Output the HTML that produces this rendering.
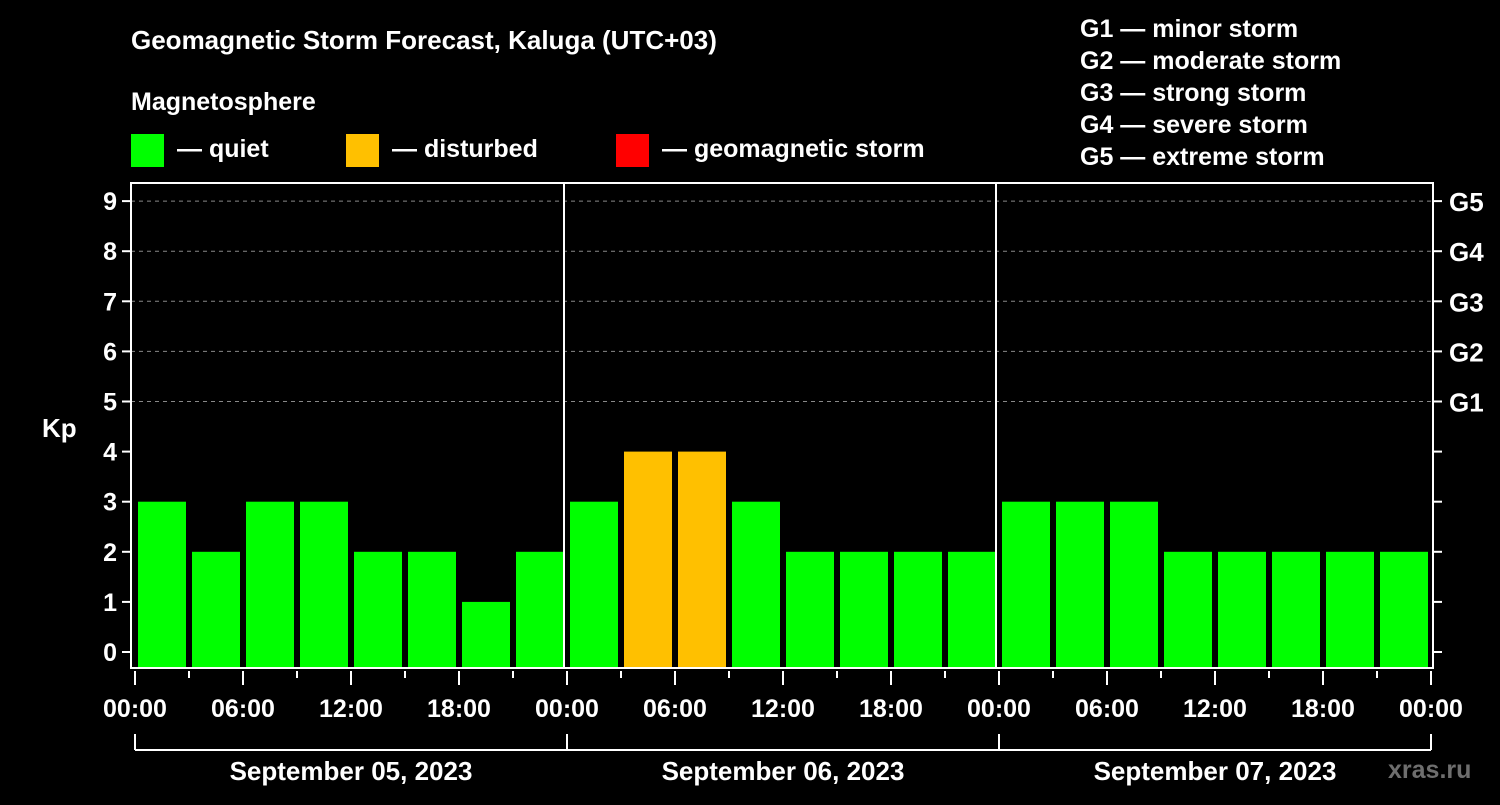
<!DOCTYPE html>
<html><head><meta charset="utf-8"><style>
body{margin:0;background:#000;width:1500px;height:800px;overflow:hidden}
svg text{font-family:"Liberation Sans",sans-serif;font-weight:bold;fill:#fff}
</style></head><body>
<svg id="c" width="1500" height="800" xmlns="http://www.w3.org/2000/svg">
<text x="131" y="49" font-size="26">Geomagnetic Storm Forecast, Kaluga (UTC+03)</text>
<text x="131" y="110" font-size="25">Magnetosphere</text>
<g><rect x="131" y="134" width="33" height="33" fill="#00ff00"/><text x="177" y="157" font-size="25">— quiet</text></g>
<g><rect x="346" y="134" width="33" height="33" fill="#ffc000"/><text x="392" y="157" font-size="25">— disturbed</text></g>
<g><rect x="616" y="134" width="33" height="33" fill="#ff0000"/><text x="662" y="157" font-size="25">— geomagnetic storm</text></g>
<g font-size="25">
<text x="1080" y="37">G1 — minor storm</text><text x="1080" y="69">G2 — moderate storm</text><text x="1080" y="101">G3 — strong storm</text><text x="1080" y="133">G4 — severe storm</text><text x="1080" y="165">G5 — extreme storm</text></g>
<text x="42" y="437" font-size="26">Kp</text>
<text x="1388" y="778" font-size="25" fill="#777" style="fill:#6e6e6e">xras.ru</text>
<g id="plot"></g>
</svg>
<script>
const kpValues=[3,2,3,3,2,2,1,2, 3,4,4,3,2,2,2,2, 3,3,3,2,2,2,2,2];
const dayLabels=["September 05, 2023","September 06, 2023","September 07, 2023"];
const hourLabels=["00:00","06:00","12:00","18:00"];
const gLabels=["G1","G2","G3","G4","G5"];
const yTicks=[0,1,2,3,4,5,6,7,8,9];
const NS="http://www.w3.org/2000/svg";
const g=document.getElementById('plot');
const X0=135,DAYW=432,SLOT=54,PL=131,PR=1433,PT=183,PB=668;
const y=v=>652-v*50.1;
const xs=i=>X0+i*SLOT;
function mk(t,a,txt){const e=document.createElementNS(NS,t);for(const k in a)e.setAttribute(k,a[k]);if(txt!=null)e.textContent=txt;g.appendChild(e);return e;}
yTicks.forEach(v=>{
 if(v>=5){const l=mk('line',{x1:PL,x2:PR,y1:y(v),y2:y(v),stroke:'#888','stroke-dasharray':'4,4','stroke-width':1});
 
 }
 const t=mk('line',{x1:PL-9,x2:PL,y1:y(v),y2:y(v),stroke:'#fff','stroke-width':2});
 
 
 const r=mk('line',{x1:PR,x2:PR+9,y1:y(v),y2:y(v),stroke:'#fff','stroke-width':2});
 
 
 const tx=mk('text',{x:PL-14,y:y(v)+9,'font-size':25,'text-anchor':'end'},String(v));
 
 
});
gLabels.forEach((s,i)=>{
 const t=mk('text',{x:1449,y:y(5+i)+10,'font-size':26},s);
 
 
});
kpValues.forEach((v,i)=>{
 const col=v>=5?'#ff0000':(v>=4?'#ffc000':'#00ff00');
 const b=mk('rect',{x:xs(i)+3,y:y(v),width:48,height:PB-y(v),fill:col});
 
 
});
const fr=mk('rect',{x:PL,y:PT,width:PR-PL,height:PB-PT,fill:'none',stroke:'#fff','stroke-width':2});


for(let d=1;d<dayLabels.length;d++){
 const l=mk('line',{x1:X0+d*DAYW-3,x2:X0+d*DAYW-3,y1:PT,y2:PB,stroke:'#fff','stroke-width':2});
 
 
}
for(let i=0;i<=kpValues.length;i++){
 const major=i%2===0;
 const t=mk('line',{x1:xs(i),x2:xs(i),y1:PB+3,y2:major?PB+17:PB+10,stroke:'#fff','stroke-width':2});
 
 
 if(major){const tx=mk('text',{x:xs(i),y:717,'font-size':25,'text-anchor':'middle'},hourLabels[(i/2)%4]);
 
 }
}
dayLabels.forEach((s,d)=>{
 const a=X0+d*DAYW;
 const v=mk('line',{x1:a,x2:a,y1:734,y2:750,stroke:'#fff','stroke-width':2});
 
 
 const h=mk('line',{x1:a,x2:a+DAYW,y1:750,y2:750,stroke:'#fff','stroke-width':2});
 
 
 const t=mk('text',{x:a+DAYW/2,y:780,'font-size':26,'text-anchor':'middle'},s);
 
 
});
const e=mk('line',{x1:X0+3*DAYW,x2:X0+3*DAYW,y1:734,y2:750,stroke:'#fff','stroke-width':2});


</script>
</body></html>
